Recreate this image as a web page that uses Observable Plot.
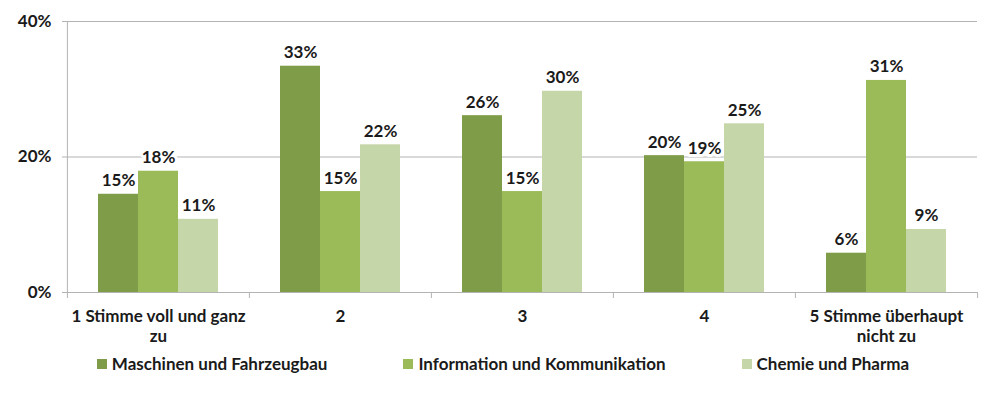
<!DOCTYPE html>
<html><head><meta charset="utf-8">
<script src="https://cdn.jsdelivr.net/npm/d3@7"></script>
<script src="https://cdn.jsdelivr.net/npm/@observablehq/plot@0.6"></script>
<style>
body{margin:0;background:#fff;font-family:Lato,"Open Sans",sans-serif;}
#legend{display:flex;justify-content:center;gap:76px;font-weight:bold;font-size:17px;line-height:20px;color:#1a1a1a;margin-top:9px;padding-left:6px;}
#legend span.item{display:flex;align-items:center;}
#legend span.sw{display:inline-block;width:10px;height:10px;margin-right:5px;}
</style></head><body><div id="chart"></div><div id="legend"></div>
<script>
const categories = ["1 Stimme voll und ganz\nzu", "2", "3", "4", "5 Stimme überhaupt\nnicht zu"];
const series = ["Maschinen und Fahrzeugbau", "Information und Kommunikation", "Chemie und Pharma"];
const maschinen = [14.5, 33.4, 26.1, 20.2, 5.8];
const information = [17.9, 14.9, 14.9, 19.3, 31.3];
const chemie = [10.8, 21.8, 29.7, 24.9, 9.3];
const colors = ["#7f9c48", "#9bbb59", "#c5d6a8"];
const yTicks = [0, 20, 40];

const seriesValues = [maschinen, information, chemie];
const data = [];
categories.forEach((c, i) => series.forEach((s, j) => data.push({cat: c, series: s, value: seriesValues[j][i]})));

const W = 1000, H = 345, mL = 66, mR = 23, mT = 21, mB = 53;
const fw = (W - mL - mR) / categories.length;
const plotH = H - mT - mB;
const grid = "#b3b3b3";
const ink = "#1a1a1a";

const chart = Plot.plot({
  width: W, height: H, marginLeft: mL, marginRight: mR, marginTop: mT, marginBottom: mB,
  style: {fontFamily: "Lato, 'Open Sans', sans-serif", fontSize: "17px", fontWeight: "bold", color: ink, background: "#fff", overflow: "visible"},
  fx: {domain: categories, padding: 0, label: null, axis: null},
  x: {domain: series, paddingInner: 0, paddingOuter: 0.75, axis: null},
  y: {domain: [0, 40], axis: null},
  color: {domain: series, range: colors},
  marks: [
    Plot.ruleY([20, 40], {stroke: grid, strokeWidth: 1}),
    Plot.ruleY([0], {stroke: grid, strokeWidth: 1}),
    Plot.ruleX([categories[0]], {fx: d => d, x: null, dx: -fw / 2, stroke: grid}),
    Plot.ruleX(categories, {fx: d => d, x: null, dx: -fw / 2, insetTop: plotH, insetBottom: -6, stroke: grid}),
    Plot.ruleX([categories[categories.length - 1]], {fx: d => d, x: null, dx: fw / 2, insetTop: plotH, insetBottom: -6, stroke: grid}),
    Plot.barY(data, {fx: "cat", x: "series", y: "value", fill: "series"}),
    Plot.text(data, {fx: "cat", x: "series", y: "value", text: d => Math.round(d.value) + "%", dy: -8, lineAnchor: "bottom", fill: ink, stroke: "white", strokeWidth: 6, paintOrder: "stroke"}),
    Plot.axisFx({domain: categories, anchor: "bottom", tickSize: 0, tickPadding: 15, lineHeight: 1.18, fill: ink, label: null}),
    Plot.axisY(yTicks, {tickFormat: d => d + "%", tickSize: 5, tickPadding: 11, stroke: grid, fill: ink, label: null})
  ]
});
document.getElementById("chart").appendChild(chart);

const legend = document.getElementById("legend");
series.forEach((s, j) => {
  const item = document.createElement("span");
  item.className = "item";
  const sw = document.createElement("span");
  sw.className = "sw";
  sw.style.background = colors[j];
  item.appendChild(sw);
  item.appendChild(document.createTextNode(s));
  legend.appendChild(item);
});
</script></body></html>
